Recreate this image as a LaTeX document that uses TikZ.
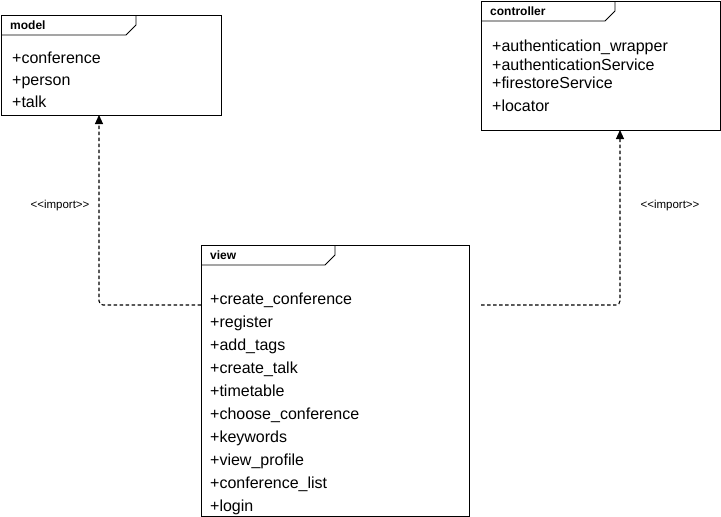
\documentclass[tikz,border=0pt]{standalone}
\usepackage{fontspec}
\setmainfont{Liberation Sans}
\usetikzlibrary{arrows.meta}
\tikzset{
  pkgbox/.style={draw, line width=0.9pt, inner sep=0pt, outer sep=0pt, anchor=north west},
  tabline/.style={line width=0.9pt},
  pkgname/.style={anchor=base west, inner sep=0pt, font=\fontsize{12}{14}\selectfont\bfseries},
  item/.style={anchor=base west, inner sep=0pt, font=\fontsize{16}{18}\selectfont},
  imp/.style={line width=1.1pt, dash pattern=on 3.5pt off 2.5pt, rounded corners=4pt, -{Triangle[length=9pt,width=8pt]}},
  implabel/.style={inner sep=0pt, font=\fontsize{11.5}{13}\selectfont}
}
\begin{document}
\begin{tikzpicture}[x=1pt,y=-1pt]
\useasboundingbox (0,0) rectangle (721,517);
% model
\node[pkgbox, minimum width=220pt, minimum height=100pt] (model) at (1,15) {};
\draw[tabline] (model.north west) ++(135,0) -- ++(0,10) -- ++(-10,10) -- (1,35);
\node[pkgname] (modelname) at (10,29.5) {model};
\node[item] (m1) at (12,63) {+conference};
\node[item] (m2) at (12,85) {+person};
\node[item] (m3) at (12,107) {+talk};
% controller
\node[pkgbox, minimum width=239pt, minimum height=129pt] (controller) at (481,1) {};
\draw[tabline] (controller.north west) ++(134,0) -- ++(0,10) -- ++(-10,10) -- (481,21);
\node[pkgname] (ctrlname) at (490,15.5) {controller};
\node[item] (c1) at (492,51.5) {+authentication\_wrapper};
\node[item] (c2) at (492,70) {+authenticationService};
\node[item] (c3) at (492,88.5) {+firestoreService};
\node[item] (c4) at (492,111) {+locator};
% view
\node[pkgbox, minimum width=268pt, minimum height=271pt] (view) at (201,245) {};
\draw[tabline] (view.north west) ++(134,0) -- ++(0,10) -- ++(-10,10) -- (201,265);
\node[pkgname] (viewname) at (210,259) {view};
\node[item] (v1) at (210,304.5) {+create\_conference};
\node[item] (v2) at (210,327.5) {+register};
\node[item] (v3) at (210,350.5) {+add\_tags};
\node[item] (v4) at (210,373.5) {+create\_talk};
\node[item] (v5) at (210,396.5) {+timetable};
\node[item] (v6) at (210,419.5) {+choose\_conference};
\node[item] (v7) at (210,442.5) {+keywords};
\node[item] (v8) at (210,465.5) {+view\_profile};
\node[item] (v9) at (210,488.5) {+conference\_list};
\node[item] (v10) at (210,511.5) {+login};
% connectors
\coordinate (rstart) at (481,305);
\draw[imp] ([yshift=-60pt]view.north west) -| ([xshift=98pt]model.south west);
\draw[imp] (rstart) -| ([xshift=139pt]controller.south west);
\node[implabel] (l1) at (60,206) {<\kern0pt<import>\kern0pt>};
\node[implabel] (l2) at (670,206) {<\kern0pt<import>\kern0pt>};
\end{tikzpicture}
\end{document}
